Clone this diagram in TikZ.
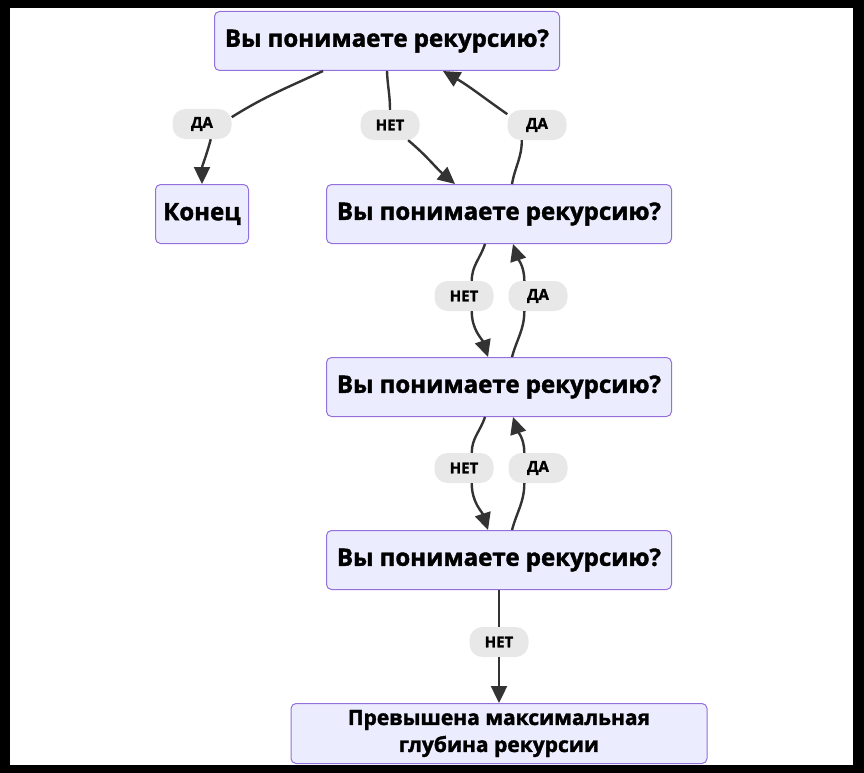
\documentclass[tikz,border=0pt]{standalone}
\usepackage{fontspec}
\setmainfont{Open Sans}[BoldFeatures={FakeBold=1.6}]
\usetikzlibrary{arrows.meta,
                positioning}
\definecolor{boxfill}{HTML}{ECECFF}
\definecolor{boxline}{HTML}{9370DB}
\definecolor{pillfill}{HTML}{E8E8E8}
\definecolor{wire}{HTML}{333333}

\begin{document}
\begin{tikzpicture}[x=1pt, y=-1pt,
    node distance = 113pt and 77pt,
        base/.style = {draw=boxline, fill=boxfill, line width=1pt,
                       rounded corners=5pt, minimum height=59pt,
                       align=center, text=black,
                       font=\bfseries\fontsize{24}{28}\selectfont},
    question/.style = {base, minimum width=345pt},
      finish/.style = {base, minimum width=93pt, inner xsep=3pt},
    overflow/.style = {base, minimum width=416pt, minimum height=60pt,
                       font=\bfseries\fontsize{21}{27}\selectfont},
      answer/.style = {fill=pillfill, rounded corners=13pt,
                       minimum width=59pt, minimum height=30pt, inner sep=0pt,
                       font=\bfseries\fontsize{15}{17}\selectfont},
        link/.style = {draw=wire, line width=2.4pt,
                       -{Triangle[length=17pt,width=16pt]}}]

% frame
\fill[black] (0,0) rectangle (864,773);
\fill[white] (10,8) rectangle (853,765);

\node [question] (ask0) at (387,41)  {Вы понимаете рекурсию?};
\node [question] (ask1) at (499,214) {Вы понимаете рекурсию?};
\node [question, below=of ask1] (ask2) {Вы понимаете рекурсию?};
\node [question, below=of ask2] (ask3) {Вы понимаете рекурсию?};
\node [overflow, below=of ask3] (limit) {Превышена максимальная\\глубина рекурсии};
\node [finish, left=of ask1]   (stop) {Конец};
%
\node [answer] (yes0) at (202,124) {ДА};
\node [answer] (no0)  at (390,125) {НЕТ};
\node [answer] (yes1) at (537,125) {ДА};
\node [answer] (no1)  at (464,296) {НЕТ};
\node [answer] (yes2) at (538,296) {ДА};
\node [answer] (no2)  at (464,468) {НЕТ};
\node [answer] (yes3) at (538,468) {ДА};
\node [answer] (no3)  at (499,642) {НЕТ};
%%
\draw [link] ([xshift=-64pt] ask0.south) to[out=-155,in=32] (yes0.13)
             (yes0.-60) to[out=-105,in=90] (stop.north);
\draw [link] (ask0.south) to[out=-88,in=90] (no0.north)
             (no0.-40) to[out=-40,in=140] ([xshift=-44pt] ask1.north);
\draw [link] ([xshift=13pt] ask1.north) to[out=80,in=-90] (yes1.-135)
             (yes1.160) to[out=145,in=-30] ([xshift=56pt] ask0.south);
%
\foreach \hi/\lo/\n/\y in {ask1/ask2/no1/yes2, ask2/ask3/no2/yes3}
{
  \draw [link] ([xshift=-14pt] \hi.south) to[out=-108,in=90] (\n.63)
               (\n.-63) to[out=-90,in=108] ([xshift=-11pt] \lo.north);
  \draw [link] ([xshift=13pt] \lo.north) to[out=75,in=-90] (\y.-132)
               (\y.132) to[out=90,in=-72] ([xshift=14pt] \hi.south);
}
\draw [link] (ask3) -- (no3) -- (limit);
\end{tikzpicture}
\end{document}
